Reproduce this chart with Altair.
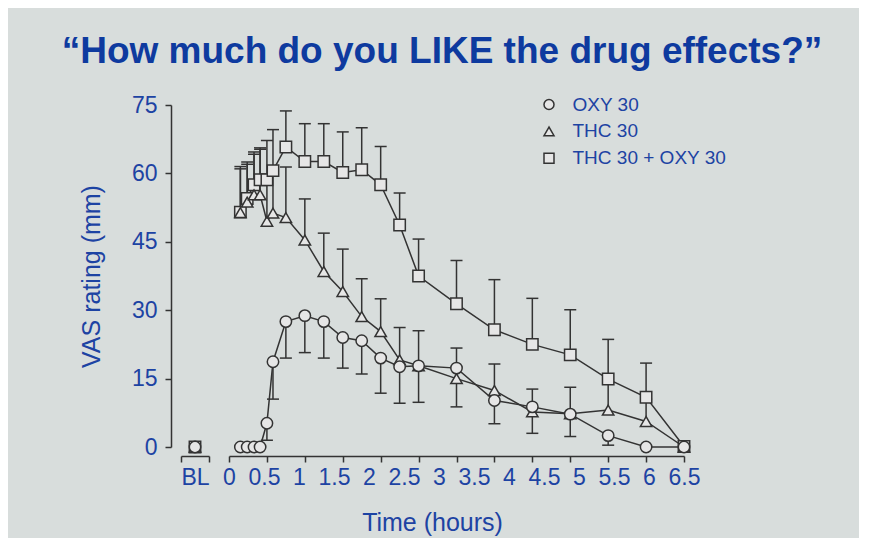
import altair as alt
import pandas as pd

FONT = "Liberation Sans"
BLUE = "#1d43a3"
TITLE_BLUE = "#0e3a9f"
INK = "#333333"
MARKER_FILL = "#e6e6e6"
BG = "#d8dddc"

SERIES = ["OXY 30", "THC 30", "THC 30 + OXY 30"]
SHAPES = ["circle", "triangle-up", "square"]

# time after dosing (hours, on the tick-mark scale of the original)
TIME_H = [0.15, 0.24, 0.33, 0.41, 0.5, 0.58, 0.75, 1.0, 1.25, 1.5, 1.75, 2.0,
          2.25, 2.5, 3.0, 3.5, 4.0, 4.5, 5.0, 5.5, 6.0]

OXY_MEAN = [0, 0, 0, 0, 5.2, 18.7, 27.5, 28.8, 27.5, 24.0, 23.3, 19.5,
            17.6, 17.8, 17.3, 10.2, 8.8, 7.2, 2.5, 0, 0]
OXY_ERR_END = [0, 0, 0, 0, 1.5, 10.5, 19.5, 20.7, 19.5, 17.3, 16.0, 11.8,
               9.6, 9.8, 8.8, 5.1, 3.0, 2.3, 0.4, 0, 0]

THC_MEAN = [51.4, 53.7, 55.3, 55.3, 49.5, 51.3, 50.3, 45.4, 38.5, 34.1, 28.6, 25.3,
            19.1, 17.8, 15.0, 12.4, 7.7, 7.3, 8.1, 5.6, 0]
THC_ERR_END = [61.0, 62.0, 64.2, 65.3, 58.0, 60.5, 61.4, 54.4, 46.9, 43.4, 36.9, 32.5,
               26.2, 25.5, 21.7, 18.2, 12.7, 13.1, 14.0, 10.5, 0]

COMBO_MEAN = [51.5, 54.5, 57.5, 58.6, 58.6, 60.6, 65.8, 62.6, 62.6, 60.2, 60.8, 57.5,
              48.7, 37.5, 31.4, 25.7, 22.5, 20.2, 14.9, 10.9, 0.1]
COMBO_ERR_END = [61.5, 62.5, 64.7, 65.6, 67.2, 69.6, 73.7, 70.9, 70.9, 69.1, 70.0, 65.9,
                 55.7, 45.6, 40.9, 36.7, 32.6, 30.1, 23.6, 18.4, 0.1]

BL_CATEGORY = "BL"
BL_MEAN = [0, 0, 0]

X_TICK_VALUES = [0, 0.5, 1, 1.5, 2, 2.5, 3, 3.5, 4, 4.5, 5, 5.5, 6]
X_LABEL_VALUES = [0, 0.5, 1, 1.5, 2, 2.5, 3, 3.5, 4, 4.5, 5, 5.5, 6, 6.5]
Y_TICK_VALUES = [0, 15, 30, 45, 60, 75]

# ---- tables (drawing order: squares, triangles, circles) ----
rows = []
for name, means, ends in [
    (SERIES[2], COMBO_MEAN, COMBO_ERR_END),
    (SERIES[1], THC_MEAN, THC_ERR_END),
    (SERIES[0], OXY_MEAN, OXY_ERR_END),
]:
    for t, m, e in zip(TIME_H, means, ends):
        rows.append({"series": name, "time": t, "mean": m, "err_end": e})
df = pd.DataFrame(rows)

bl_df = pd.DataFrame({
    "cat": [BL_CATEGORY] * 3,
    "series": [SERIES[2], SERIES[1], SERIES[0]],
    "mean": BL_MEAN,
})
lab_df = pd.DataFrame({"pos": X_LABEL_VALUES})

shape_scale = alt.Scale(domain=SERIES, range=SHAPES)
fill_scale = alt.Scale(domain=SERIES, range=[MARKER_FILL] * 3)
stroke_scale = alt.Scale(domain=SERIES, range=[INK] * 3)
y_scale = alt.Scale(domain=[0, 75], nice=False, zero=False)

legend = alt.Legend(
    title=None, orient="none", legendX=310.5, legendY=-10, padding=0,
    labelFontSize=19, labelFont=FONT, labelColor=BLUE, labelOffset=14,
    symbolSize=100, symbolStrokeWidth=1.5, rowPadding=6.9)

tick_axis = alt.Axis(values=X_TICK_VALUES, labels=False, title=None, orient="bottom",
                     offset=9, tickSize=6, tickWidth=1.5, tickColor=INK,
                     domainWidth=1.5, domainColor=INK, grid=False)
x_true = alt.X("time:Q", scale=alt.Scale(domain=[0, 6], nice=False, zero=False), axis=tick_axis)
y_main = alt.Y("mean:Q", scale=y_scale, axis=None)

base = alt.Chart(df)
rules = base.mark_rule(color=INK, strokeWidth=1.5).encode(x=x_true, y=y_main, y2="err_end:Q")
caps = base.mark_tick(orient="horizontal", size=12, thickness=1.5, color=INK, opacity=1).encode(
    x=x_true, y=alt.Y("err_end:Q", scale=y_scale, axis=None))
lines = base.mark_line(color=INK, strokeWidth=1.5).encode(x=x_true, y=y_main, detail="series:N")
points = base.mark_point(filled=False, strokeWidth=1.5, size=130, opacity=1).encode(
    x=x_true, y=y_main,
    shape=alt.Shape("series:N", scale=shape_scale, legend=legend),
    fill=alt.Fill("series:N", scale=fill_scale, legend=legend),
    stroke=alt.Stroke("series:N", scale=stroke_scale, legend=legend),
)
data_layer = alt.layer(rules, caps, lines, points)

label_layer = alt.Chart(lab_df).mark_point(opacity=0).encode(
    x=alt.X("pos:Q", scale=alt.Scale(domain=[0, 6.5], nice=False, zero=False),
            axis=alt.Axis(values=X_LABEL_VALUES, orient="bottom", offset=9, ticks=False,
                          tickSize=0, domain=False, labelPadding=10, format="~g",
                          labelFontSize=23, labelFont=FONT, labelColor=BLUE,
                          labelFlush=False, labelOverlap=False, grid=False,
                          title="Time (hours)", titleFontSize=25, titleFont=FONT,
                          titleColor=BLUE, titleFontWeight="normal", titleX=203,
                          titleY=74, titleBaseline="alphabetic", titleAlign="center")),
    y=alt.value(0),
)

main = alt.layer(data_layer, label_layer).resolve_scale(x="independent").properties(
    width=455, height=342)

bl = alt.Chart(bl_df).mark_point(filled=False, fill=MARKER_FILL, stroke=INK, strokeWidth=1.5,
                                 size=130, opacity=1).encode(
    x=alt.X("cat:N", scale=alt.Scale(type="band", paddingInner=0, paddingOuter=0),
            axis=alt.Axis(title=None, orient="bottom", offset=9, tickBand="extent",
                          tickSize=6, tickWidth=1.5, tickColor=INK, domainWidth=1.5,
                          domainColor=INK, labelPadding=4, labelAngle=0, labelFontSize=23,
                          labelFont=FONT, labelColor=BLUE)),
    y=alt.Y("mean:Q", scale=y_scale,
            axis=alt.Axis(values=Y_TICK_VALUES, offset=10, tickSize=6, tickWidth=1.5,
                          tickColor=INK, domainWidth=1.5, domainColor=INK, grid=False,
                          labelPadding=8, labelFontSize=23, labelFont=FONT, labelColor=BLUE,
                          title="VAS rating (mm)", titleFontSize=25, titleFont=FONT,
                          titleColor=BLUE, titleFontWeight="normal", titlePadding=27)),
    shape=alt.Shape("series:N", scale=shape_scale, legend=None),
).properties(width=28, height=342)

chart = alt.hconcat(bl, main, spacing=20, bounds="flush").resolve_legend(
    shape="independent", fill="independent", stroke="independent"
).properties(
    title=alt.TitleParams(
        text="\u201cHow much do you LIKE the drug effects?\u201d",
        fontSize=37, fontWeight="bold", font=FONT, color=TITLE_BLUE,
        anchor="middle", offset=23, dx=39),
    padding={"left": 53, "top": 25, "right": 36, "bottom": 3},
    background=BG,
).configure_view(stroke=None)

chart.save("out.html", embed_options={"renderer": "svg", "actions": False})
